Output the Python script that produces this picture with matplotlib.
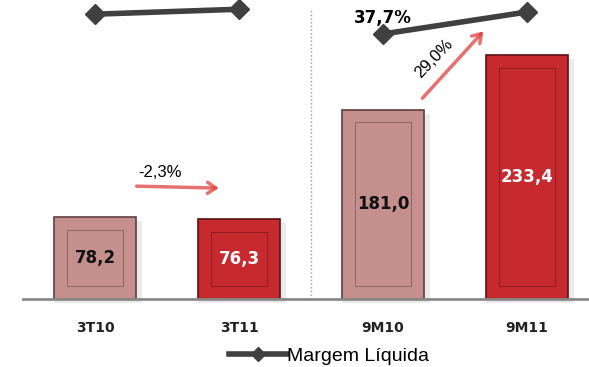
import matplotlib.pyplot as plt
from matplotlib.patches import Rectangle
import numpy as np

periods = ["3T10", "3T11", "9M10", "9M11"]
lucro = [78.2, 76.3, 181.0, 233.4]
lucro_txt = ["78,2", "76,3", "181,0", "233,4"]
margem = [41.3, 42.2, 37.7, 41.7]
face = ["#c48f8d", "#c62a2e", "#c48f8d", "#c62a2e"]
edge = ["#5e3e3e", "#5a1214", "#5e3e3e", "#5a1214"]
txt_col = ["#111111", "white", "#111111", "white"]

fig = plt.figure(figsize=(5.89, 3.67), dpi=100)
W, H = 589, 367
ax = fig.add_axes([23 / W, 1 - 299 / H, 566 / W, 299 / H])
x = np.arange(len(periods))
bw = 0.57

# shadow
ax.bar(x + 0.02, lucro, bw + 0.04, bottom=-4, color="#000000", alpha=0.08, zorder=1)
ax.bar(x, lucro, bw, color=face, edgecolor=edge, linewidth=1.2, zorder=2)
for i, v in enumerate(lucro):
    ax.add_patch(Rectangle((x[i] - bw / 2 + 0.09, 12), bw - 0.18, v - 24,
                           fill=False, edgecolor=edge[i], lw=0.6, alpha=0.6, zorder=3))
    ax.text(x[i], v / 2, lucro_txt[i], ha="center", va="center", fontsize=12,
            fontweight="bold", color=txt_col[i], family="DejaVu Sans", zorder=4)

ax.set_xlim(-0.5, 3.43)
ax.set_ylim(0, 286)
for s in ["top", "right", "left"]:
    ax.spines[s].set_visible(False)
ax.spines["bottom"].set_color("#8a8a8a")
ax.spines["bottom"].set_linewidth(2)
ax.set_yticks([])
ax.set_xticks(x)
ax.set_xticklabels(periods, fontsize=10, fontweight="bold", family="DejaVu Sans", color="#222222")
ax.tick_params(axis="x", length=0, pad=16)

ax.plot([1.5, 1.5], [0, 277], color="#999999", lw=1, ls=":", zorder=1)

# variation arrows
red = "#e0413f"
ax.annotate("", xy=(0.88, 106), xytext=(0.27, 108),
            arrowprops=dict(arrowstyle="->,head_length=0.6,head_width=0.4", color=red, lw=2.5, alpha=0.75))
ax.text(0.45, 121, "-2,3%", ha="center", va="center", fontsize=12, family="Liberation Sans")
ax.annotate("", xy=(2.71, 258), xytext=(2.26, 190),
            arrowprops=dict(arrowstyle="->,head_length=0.6,head_width=0.4", color=red, lw=2.5, alpha=0.75))
ax.text(2.35, 230, "29,0%", ha="center", va="center", fontsize=12, rotation=46,
        family="Liberation Sans")

# margin line
ax2 = ax.twinx()
ax2.set_ylim(-10.48, 43.88)
ax2.axis("off")
line_kw = dict(color="#404040", lw=4, marker="D", markersize=10, zorder=5)
ln, = ax2.plot(x[:2], margem[:2], label="Margem Líquida", **line_kw)
ax2.plot(x[2:], margem[2:], **line_kw)
ax2.annotate("37,7%", xy=(x[2], margem[2]), xytext=(0, 11.5), textcoords="offset points",
             ha="center", va="center", fontsize=12, fontweight="bold", family="DejaVu Sans")
for a in (ax, ax2):
    for c in a.get_children():
        if hasattr(c, "set_clip_on"):
            c.set_clip_on(False)

leg = fig.legend(handles=[ln], loc="center", bbox_to_anchor=(329 / W, 1 - 356 / H), frameon=False,
                 handlelength=3.0, handletextpad=0.0, borderpad=0,
                 prop={"family": "Liberation Sans", "size": 14})
ln_h = leg.legend_handles[0]
ln_h.set_markersize(7)

fig.savefig("out.png", dpi=100)
